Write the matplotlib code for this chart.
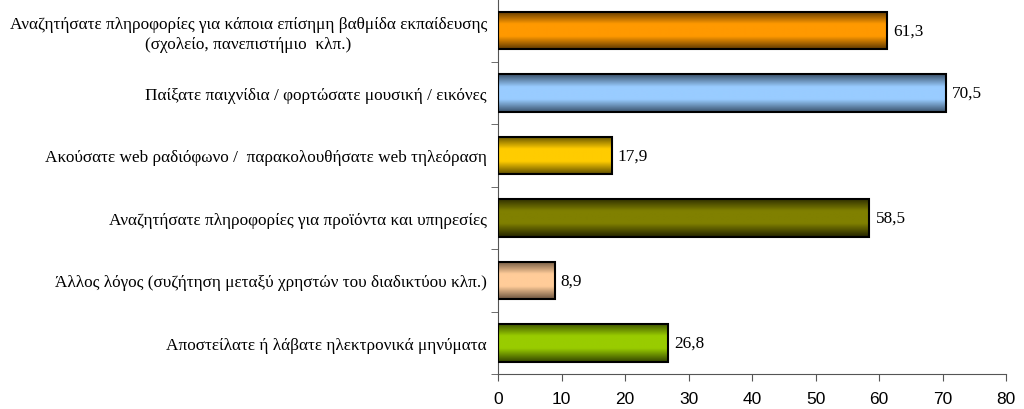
import numpy as np
import matplotlib
matplotlib.use("Agg")
import matplotlib.pyplot as plt
from matplotlib.colors import LinearSegmentedColormap

categories = [
    "Αναζητήσατε πληροφορίες για κάποια επίσημη βαθμίδα εκπαίδευσης\n(σχολείο, πανεπιστήμιο  κλπ.)",
    "Παίξατε παιχνίδια / φορτώσατε μουσική / εικόνες",
    "Ακούσατε web ραδιόφωνο /  παρακολουθήσατε web τηλεόραση",
    "Αναζητήσατε πληροφορίες για προϊόντα και υπηρεσίες",
    "Άλλος λόγος (συζήτηση μεταξύ χρηστών του διαδικτύου κλπ.)",
    "Αποστείλατε ή λάβατε ηλεκτρονικά μηνύματα",
]
values = [61.3, 70.5, 17.9, 58.5, 8.9, 26.8]
value_labels = ["61,3", "70,5", "17,9", "58,5", "8,9", "26,8"]
xticks = [0, 10, 20, 30, 40, 50, 60, 70, 80]

center_colors = ["#FF9900", "#99CCFF", "#FFCC00", "#808000", "#FFCC99", "#99CC00"]
edge_colors = ["#5E3800", "#3A526B", "#605000", "#2A2A00", "#6E5640", "#3A4E00"]

fig = plt.figure(figsize=(10.24, 4.1), dpi=100)
ax = fig.add_axes([498/1024, 35/410, 508/1024, 375/410])

bar_h = 0.6
n = len(values)
for i, (v, cc, ec) in enumerate(zip(values, center_colors, edge_colors)):
    cmap = LinearSegmentedColormap.from_list("g", [ec, cc, cc, ec], N=256)
    grad = np.linspace(0, 1, 128).reshape(-1, 1)
    ax.imshow(grad, cmap=cmap, aspect="auto", interpolation="bilinear",
              extent=(0, v, i + bar_h / 2, i - bar_h / 2), zorder=2)
    ax.barh(i, v, height=bar_h, facecolor="none", edgecolor="black", linewidth=1.5, zorder=3)
    ax.annotate(value_labels[i], (v, i), xytext=(4.5, 0), textcoords="offset points",
                ha="left", va="center", fontsize=12.4, family="Liberation Serif")

ax.set_xlim(0, 80)
ax.set_ylim(n - 0.5, -0.5)
ax.set_xticks(xticks)
ax.set_xticklabels([str(t) for t in xticks], family="Liberation Sans", fontsize=12.5)
ax.set_yticks(range(n))
ax.set_yticklabels(categories, family="Liberation Serif", fontsize=12.4,
                   multialignment="center", linespacing=1.35)
ax.tick_params(axis="y", which="major", length=0, pad=8)
ax.set_yticks(np.arange(-0.5, n, 1.0), minor=True)
ax.tick_params(axis="y", which="minor", length=5, direction="out", color="#555555")
ax.tick_params(axis="x", length=5, direction="out", color="#555555", pad=7)
for s in ["top", "right"]:
    ax.spines[s].set_visible(False)
for s in ["left", "bottom"]:
    ax.spines[s].set_color("#555555")

fig.savefig("out.png", dpi=100)
